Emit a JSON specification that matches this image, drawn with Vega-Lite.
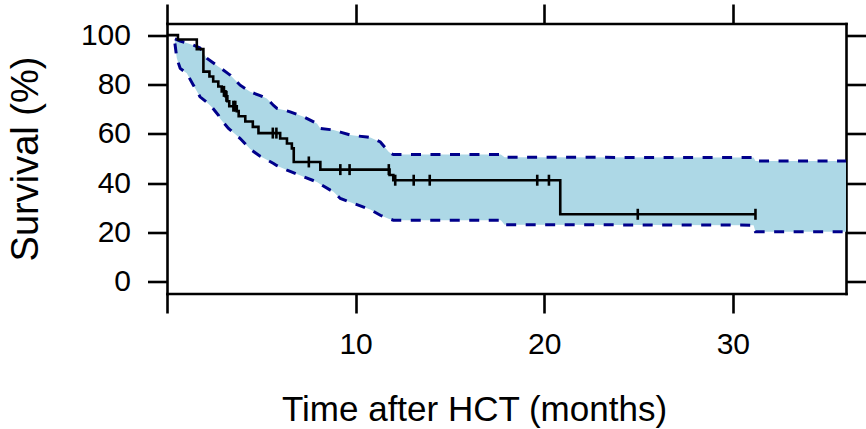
{
  "$schema": "https://vega.github.io/schema/vega-lite/v6.json",
  "width": 679,
  "height": 270,
  "autosize": {"type": "none"},
  "padding": {"left": 167, "top": 23.5, "right": 20, "bottom": 135.5},
  "background": "white",
  "config": {
    "view": {"stroke": null},
    "font": "Liberation Sans",
    "axis": {
      "grid": false,
      "zindex": 1,
      "domainColor": "black",
      "domainWidth": 2.6,
      "domainCap": "square",
      "tickColor": "black",
      "tickWidth": 2.6,
      "tickSize": 19.5,
      "labelFont": "Liberation Sans",
      "labelFontSize": 30,
      "labelColor": "black",
      "titleFont": "Liberation Sans",
      "titleFontSize": 38,
      "titleFontWeight": "normal",
      "titleColor": "black"
    }
  },
  "datasets": {
    "band": [
      {"t": 0.42, "hi": 98.5, "lo": 96.6},
      {"t": 0.52, "hi": 98.2, "lo": 90.6},
      {"t": 0.7, "hi": 97.6, "lo": 86.5},
      {"t": 1.05, "hi": 96.8, "lo": 84.5},
      {"t": 1.4, "hi": 95.9, "lo": 79.7},
      {"t": 1.75, "hi": 94.8, "lo": 75.0},
      {"t": 2.11, "hi": 90.6, "lo": 72.8},
      {"t": 2.37, "hi": 89.2, "lo": 70.9},
      {"t": 2.73, "hi": 87.2, "lo": 67.5},
      {"t": 2.81, "hi": 86.8, "lo": 66.2},
      {"t": 3.26, "hi": 84.3, "lo": 62.2},
      {"t": 3.35, "hi": 83.8, "lo": 61.6},
      {"t": 3.88, "hi": 79.7, "lo": 58.1},
      {"t": 4.41, "hi": 77.0, "lo": 53.8},
      {"t": 4.94, "hi": 75.5, "lo": 50.9},
      {"t": 5.29, "hi": 74.3, "lo": 49.5},
      {"t": 5.65, "hi": 71.5, "lo": 48.0},
      {"t": 5.83, "hi": 70.3, "lo": 47.1},
      {"t": 6.36, "hi": 69.3, "lo": 45.3},
      {"t": 6.53, "hi": 68.9, "lo": 44.8},
      {"t": 7.24, "hi": 66.9, "lo": 42.6},
      {"t": 7.95, "hi": 64.2, "lo": 40.5},
      {"t": 8.13, "hi": 62.2, "lo": 39.6},
      {"t": 8.66, "hi": 61.7, "lo": 37.2},
      {"t": 8.83, "hi": 61.5, "lo": 36.5},
      {"t": 9.19, "hi": 60.7, "lo": 33.8},
      {"t": 9.72, "hi": 59.5, "lo": 32.3},
      {"t": 9.9, "hi": 59.3, "lo": 31.8},
      {"t": 10.6, "hi": 58.7, "lo": 29.8},
      {"t": 10.78, "hi": 58.5, "lo": 29.3},
      {"t": 11.31, "hi": 56.7, "lo": 27.0},
      {"t": 11.75, "hi": 52.7, "lo": 25.6},
      {"t": 11.84, "hi": 52.2, "lo": 25.4},
      {"t": 12.0, "hi": 51.6, "lo": 25.0},
      {"t": 17.7, "hi": 51.6, "lo": 25.0},
      {"t": 17.9, "hi": 50.5, "lo": 23.2},
      {"t": 31.1, "hi": 50.4, "lo": 23.0},
      {"t": 31.2, "hi": 49.0, "lo": 20.3},
      {"t": 36, "hi": 49.0, "lo": 20.3}
    ],
    "curve": [
      {"t": 0, "s": 100},
      {"t": 0.58, "s": 98.2},
      {"t": 1.58, "s": 94.3},
      {"t": 1.93, "s": 85.2},
      {"t": 2.25, "s": 83.2},
      {"t": 2.45, "s": 81.2},
      {"t": 2.72, "s": 79.2},
      {"t": 2.9, "s": 77.2},
      {"t": 3.1, "s": 75.2},
      {"t": 3.2, "s": 73.2},
      {"t": 3.3, "s": 71.2},
      {"t": 3.7, "s": 69.2},
      {"t": 3.8, "s": 67.1},
      {"t": 4.15, "s": 65.0},
      {"t": 4.55, "s": 62.8},
      {"t": 4.85, "s": 60.3},
      {"t": 6.0, "s": 58.1},
      {"t": 6.36, "s": 56.1},
      {"t": 6.62, "s": 54.1},
      {"t": 6.72, "s": 48.6},
      {"t": 8.13, "s": 45.5},
      {"t": 11.8, "s": 43.3},
      {"t": 12.0, "s": 41.2},
      {"t": 20.85, "s": 27.4},
      {"t": 31.2, "s": 27.4}
    ],
    "censor": [
      {"t": 3.02, "s": 77.2},
      {"t": 3.15, "s": 75.2},
      {"t": 3.52, "s": 71.2},
      {"t": 3.62, "s": 71.2},
      {"t": 5.61, "s": 60.3},
      {"t": 5.8, "s": 60.3},
      {"t": 7.52, "s": 48.6},
      {"t": 9.19, "s": 45.5},
      {"t": 9.68, "s": 45.5},
      {"t": 11.76, "s": 45.5},
      {"t": 12.1, "s": 41.2},
      {"t": 13.08, "s": 41.2},
      {"t": 13.93, "s": 41.2},
      {"t": 19.63, "s": 41.2},
      {"t": 20.25, "s": 41.2},
      {"t": 24.96, "s": 27.4},
      {"t": 31.2, "s": 27.4}
    ]
  },
  "resolve": {"axis": {"x": "independent", "y": "independent"}},
  "layer": [
    {
      "data": {"name": "band"},
      "mark": {"type": "area", "color": "#ADD8E6", "opacity": 1},
      "encoding": {
        "x": {"field": "t", "type": "quantitative", "scale": {"domain": [0, 36], "nice": false, "zero": false},
              "axis": {"orient": "bottom", "values": [0, 10, 20, 30], "labelPadding": 16, "labelExpr": "datum.value == 0 ? '' : datum.label", "title": "Time after HCT (months)", "titleFontSize": 35, "titlePadding": 33, "titleX": 307, "titleAnchor": "middle"}},
        "y": {"field": "hi", "type": "quantitative", "scale": {"domain": [-4.7, 104.7], "nice": false, "zero": false},
              "axis": {"orient": "left", "values": [0, 20, 40, 60, 80, 100], "labelPadding": 17, "title": "Survival (%)", "titlePadding": 35}},
        "y2": {"field": "lo"}
      }
    },
    {
      "data": {"name": "band"},
      "mark": {"type": "line", "color": "#00008B", "strokeWidth": 3, "strokeDash": [10, 9.5]},
      "encoding": {
        "x": {"field": "t", "type": "quantitative", "scale": {"domain": [0, 36], "nice": false, "zero": false},
              "axis": {"orient": "top", "values": [0, 10, 20, 30], "labels": false, "title": null}},
        "y": {"field": "hi", "type": "quantitative", "scale": {"domain": [-4.7, 104.7], "nice": false, "zero": false},
              "axis": {"orient": "right", "values": [0, 20, 40, 60, 80, 100], "labels": false, "title": null}}
      }
    },
    {
      "data": {"name": "band"},
      "mark": {"type": "line", "color": "#00008B", "strokeWidth": 3, "strokeDash": [10, 9.5]},
      "encoding": {
        "x": {"field": "t", "type": "quantitative", "scale": {"domain": [0, 36], "nice": false, "zero": false}, "axis": null},
        "y": {"field": "lo", "type": "quantitative", "scale": {"domain": [-4.7, 104.7], "nice": false, "zero": false}, "axis": null}
      }
    },
    {
      "data": {"name": "curve"},
      "mark": {"type": "line", "color": "black", "strokeWidth": 2.6, "interpolate": "step-after"},
      "encoding": {
        "x": {"field": "t", "type": "quantitative", "scale": {"domain": [0, 36], "nice": false, "zero": false}, "axis": null},
        "y": {"field": "s", "type": "quantitative", "scale": {"domain": [-4.7, 104.7], "nice": false, "zero": false}, "axis": null}
      }
    },
    {
      "data": {"name": "censor"},
      "mark": {"type": "tick", "color": "black", "orient": "vertical", "size": 11, "thickness": 2.6, "opacity": 1},
      "encoding": {
        "x": {"field": "t", "type": "quantitative", "scale": {"domain": [0, 36], "nice": false, "zero": false}, "axis": null},
        "y": {"field": "s", "type": "quantitative", "scale": {"domain": [-4.7, 104.7], "nice": false, "zero": false}, "axis": null}
      }
    }
  ]
}
